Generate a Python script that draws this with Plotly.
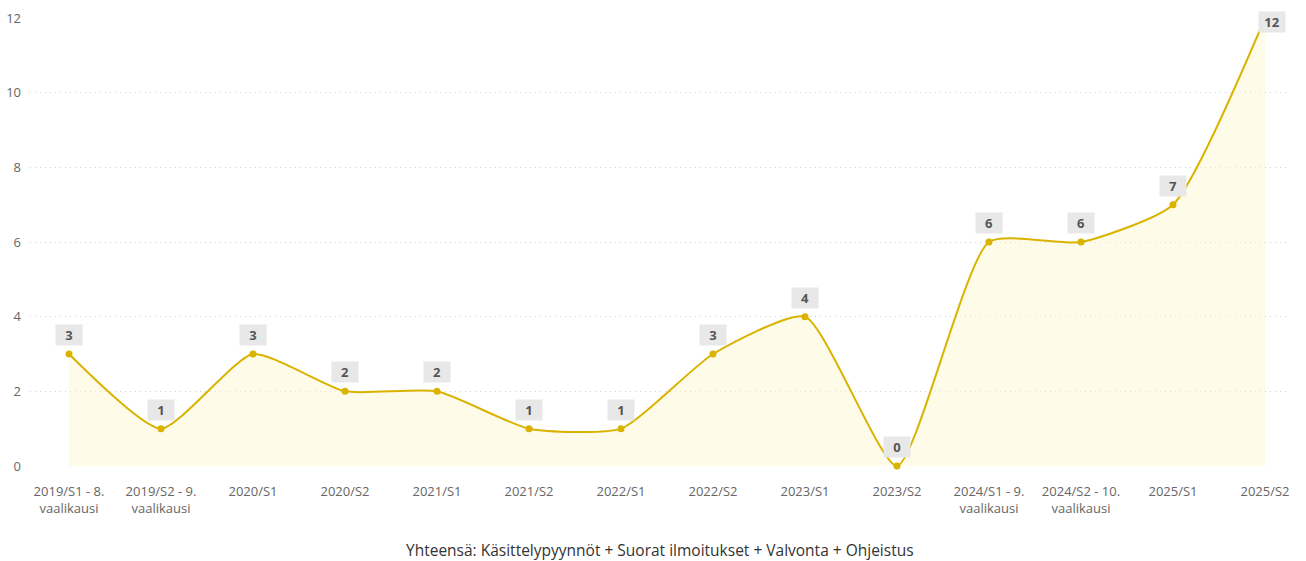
import plotly.graph_objects as go

categories = ["2019/S1 - 8.<br>vaalikausi", "2019/S2 - 9.<br>vaalikausi", "2020/S1", "2020/S2",
              "2021/S1", "2021/S2", "2022/S1", "2022/S2", "2023/S1", "2023/S2",
              "2024/S1 - 9.<br>vaalikausi", "2024/S2 - 10.<br>vaalikausi", "2025/S1", "2025/S2"]
values = [3, 1, 3, 2, 2, 1, 1, 3, 4, 0, 6, 6, 7, 12]
yticks = [0, 2, 4, 6, 8, 10, 12]
legend_text = "Yhteensä: Käsittelypyynnöt + Suorat ilmoitukset + Valvonta + Ohjeistus"

xs = list(range(len(categories)))
LINE = "#D9B300"
FONT = "Open Sans, Noto Sans, sans-serif"

fig = go.Figure()
fig.add_trace(go.Scatter(
    x=xs, y=values, mode="lines+markers",
    line=dict(color=LINE, width=2, shape="spline", smoothing=0.55),
    marker=dict(color=LINE, size=7),
    fill="tozeroy", fillcolor="rgba(253,246,205,0.45)",
    hoverinfo="skip", showlegend=False, cliponaxis=False,
))

for i, v in enumerate(values):
    last = i == len(values) - 1
    fig.add_annotation(
        x=xs[i], y=v, text=f"<b>{v}</b>", showarrow=False,
        xshift=7 if last else 0, yshift=-4 if last else 19,
        bgcolor="#e8e8e8", width=22, height=16, borderpad=2,
        font=dict(family=FONT, size=13, color="#555555"),
    )

fig.add_annotation(
    x=0.5, y=0, xref="paper", yref="paper", yshift=-84, text=legend_text, showarrow=False,
    xanchor="center", yanchor="middle",
    font=dict(family=FONT, size=15.5, color="#333333"),
)

fig.update_layout(
    width=1306, height=561,
    margin=dict(l=30, r=16, t=18, b=95, autoexpand=False),
    paper_bgcolor="white", plot_bgcolor="white",
    font=dict(family=FONT, size=13, color="#666666"),
    xaxis=dict(
        tickmode="array", tickvals=xs, ticktext=categories, automargin=False,
        range=[-0.424, 13.272], showgrid=False, zeroline=False, showline=False,
        ticks="", tickfont=dict(size=13, color="#666666"), ticklabelstandoff=16,
    ),
    yaxis=dict(
        range=[0, 12], tickvals=yticks, showgrid=True, gridcolor="#cfcfcf", automargin=False,
        griddash="1px,4px", gridwidth=1, zeroline=False, showline=False, ticks="",
        tickfont=dict(size=13, color="#666666"), ticklabelstandoff=8,
    ),
)

fig.write_html(
    "out.html",
    config={"displayModeBar": False},
    post_script="document.body.style.margin='0';document.body.style.overflow='hidden';",
)
